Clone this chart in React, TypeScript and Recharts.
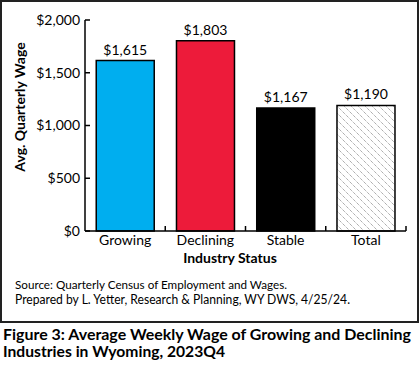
import React from 'react';
import { BarChart, Bar, XAxis, YAxis, Cell, LabelList } from 'recharts';

const categories = ['Growing', 'Declining', 'Stable', 'Total'];
const wages = [1615, 1803, 1167, 1190];
const yTicks = [0, 500, 1000, 1500, 2000];
const colors = ['#00AEEF', '#ED1B3A', '#000000', 'url(#hatch)'];

const data = categories.map((c, i) => ({ name: c, value: wages[i] }));
const FONT = 'Lato, "Open Sans", sans-serif';
const money = (v: number) => '$' + v.toLocaleString('en-US');

const XTick = (props: any) => {
  const { x, y, payload } = props;
  const off = payload && payload.offset ? payload.offset : 0;
  return (
    <g>
      <line x1={x + off} x2={x + off} y1={y} y2={y - 5} stroke="#000" strokeWidth={1.5} />
      <text x={x} y={y + 14} textAnchor="middle" fontSize={14} fill="#000" fontFamily={FONT}>
        {payload.value}
      </text>
    </g>
  );
};

export default function App() {
  return (
    <div style={{ position: 'absolute', left: 0, top: 0, width: 420, height: 366, background: '#fff', overflow: 'hidden' }}>
      <div style={{ position: 'absolute', left: 0, top: 0, width: 419, height: 323, border: '2px solid #222', boxSizing: 'border-box' }} />
      <div style={{ position: 'absolute', left: 0, top: 0 }}>
        <BarChart width={420} height={261} data={data} margin={{ top: 20, right: 14, bottom: 0, left: 8 }} barCategoryGap="14%">
          <defs>
            <pattern id="hatch" patternUnits="userSpaceOnUse" width={7} height={7}>
              <rect width={7} height={7} fill="#fff" />
              <path d="M0,0 L7,7 M-1,6 L1,8 M6,-1 L8,1" stroke="#8a8a8a" strokeWidth={1} strokeDasharray="1 1" />
            </pattern>
          </defs>
          <XAxis
            dataKey="name"
            axisLine={{ stroke: '#000', strokeWidth: 1.5 }}
            tickLine={false}
            tickSize={0}
            tickMargin={0}
            height={30}
            interval={0}
            tick={<XTick />}
          />
          <YAxis
            domain={[0, 2000]}
            ticks={yTicks}
            width={77}
            axisLine={{ stroke: '#000', strokeWidth: 1.5 }}
            tickLine={{ stroke: '#000', strokeWidth: 1.5 }}
            tickSize={-5}
            tickMargin={10}
            tickFormatter={money}
            tick={{ fontSize: 14, fill: '#000', fontFamily: FONT }}
          />
          <Bar dataKey="value" stroke="#000" strokeWidth={1.5} isAnimationActive={false}>
            {data.map((d, i) => (
              <Cell key={d.name} fill={colors[i]} />
            ))}
            <LabelList dataKey="value" position="top" offset={6} formatter={(v: any) => money(Number(v))} style={{ fontSize: 14, fill: '#000', fontFamily: FONT }} />
          </Bar>
        </BarChart>
      </div>
      <svg width={420} height={366} style={{ position: 'absolute', left: 0, top: 0, pointerEvents: 'none' }} fontFamily={FONT}>
        <text transform="translate(25,107) rotate(-90)" textAnchor="middle" fontSize={14} fontWeight="bold" fill="#000">
          Avg. Quarterly Wage
        </text>
        <text x={230} y={263} textAnchor="middle" fontSize={14} fontWeight="bold" fill="#000">
          Industry Status
        </text>
        <text x={15} y={289} fontSize={12} fill="#000" textLength={272} lengthAdjust="spacingAndGlyphs">
          Source: Quarterly Census of Employment and Wages.
        </text>
        <text x={15} y={304} fontSize={13.5} fill="#000" textLength={335} lengthAdjust="spacingAndGlyphs">
          Prepared by L. Yetter, Research &amp; Planning, WY DWS, 4/25/24.
        </text>
        <text x={3} y={340} fontSize={14.5} fontWeight="bold" fill="#000" textLength={408} lengthAdjust="spacingAndGlyphs">
          Figure 3: Average Weekly Wage of Growing and Declining
        </text>
        <text x={3} y={357} fontSize={14.5} fontWeight="bold" fill="#000" textLength={222} lengthAdjust="spacingAndGlyphs">
          Industries in Wyoming, 2023Q4
        </text>
      </svg>
    </div>
  );
}
